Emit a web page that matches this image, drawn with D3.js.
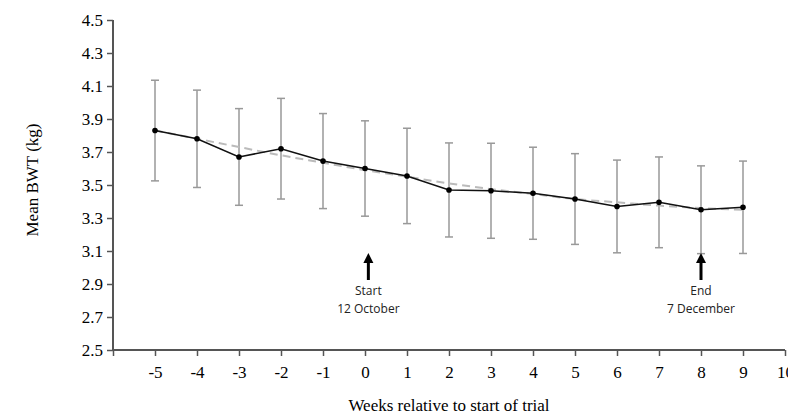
<!DOCTYPE html>
<html>
<head>
<meta charset="utf-8">
<script src="https://cdn.jsdelivr.net/npm/d3@7"></script>
<style>
  body { margin: 0; background: #fff; }
  svg { display: block; }
</style>
</head>
<body>
<div id="chart"></div>
<script>
// Chart data.
const weeks = [-5, -4, -3, -2, -1, 0, 1, 2, 3, 4, 5, 6, 7, 8, 9];
const meanBwt = [3.83, 3.78, 3.67, 3.72, 3.645, 3.60, 3.555, 3.47, 3.465, 3.45, 3.415, 3.37, 3.395, 3.35, 3.365];
const sdBwt = [0.305, 0.295, 0.293, 0.305, 0.288, 0.289, 0.289, 0.285, 0.288, 0.279, 0.275, 0.281, 0.275, 0.266, 0.28];
const trendBwt = [3.83, 3.78, 3.73, 3.68, 3.635, 3.59, 3.55, 3.51, 3.475, 3.445, 3.415, 3.395, 3.375, 3.36, 3.35];
const xTicks = [-6, -5, -4, -3, -2, -1, 0, 1, 2, 3, 4, 5, 6, 7, 8, 9, 10];
const yTicks = [2.5, 2.7, 2.9, 3.1, 3.3, 3.5, 3.7, 3.9, 4.1, 4.3, 4.5];
const notes = [
  { week: 0.08, lines: ["Start", "12 October"] },
  { week: 8, lines: ["End", "7 December"] }
];

const W = 788, H = 416;
const svg = d3.select("#chart").append("svg")
  .attr("width", W)
  .attr("height", H);

const x = d3.scaleLinear().domain([-6, 10]).range([113, 785]);
const y = d3.scaleLinear().domain([2.5, 4.5]).range([350, 20]);

const axisColor = "#555";
const serif = "'Liberation Serif', 'Times New Roman', serif";

// Y axis
const yAxis = svg.append("g")
  .attr("transform", "translate(" + x(-6) + ",0)")
  .call(d3.axisLeft(y).tickValues(yTicks).tickSize(6).tickPadding(4)
    .tickFormat(d3.format(".1f")));
yAxis.select(".domain").attr("stroke", axisColor).attr("stroke-width", 2)
  .attr("d", "M0," + y(4.5) + "V" + y(2.5));
yAxis.selectAll(".tick line").attr("stroke", axisColor).attr("stroke-width", 1.5);
yAxis.selectAll(".tick text")
  .attr("fill", "#000")
  .style("font-family", serif)
  .style("font-size", "17px");

// X axis
const xAxis = svg.append("g")
  .attr("transform", "translate(0," + y(2.5) + ")")
  .call(d3.axisBottom(x).tickValues(xTicks).tickSize(6).tickPadding(10)
    .tickFormat(d => d === -6 ? "" : d));
xAxis.select(".domain").attr("stroke", axisColor).attr("stroke-width", 2)
  .attr("d", "M" + x(-6) + ",0H" + x(10));
xAxis.selectAll(".tick line").attr("stroke", axisColor).attr("stroke-width", 1.5);
xAxis.selectAll(".tick text")
  .attr("fill", "#000")
  .style("font-family", serif)
  .style("font-size", "17px");

// Axis titles
svg.append("text")
  .attr("x", 449)
  .attr("y", 411)
  .attr("text-anchor", "middle")
  .style("font-family", serif)
  .style("font-size", "17px")
  .text("Weeks relative to start of trial");

svg.append("text")
  .attr("transform", "translate(38,180) rotate(-90)")
  .attr("text-anchor", "middle")
  .style("font-family", serif)
  .style("font-size", "17px")
  .text("Mean BWT (kg)");

// Error bars
const pts = weeks.map((w, i) => ({ w: w, m: meanBwt[i], sd: sdBwt[i], t: trendBwt[i] }));
const errColor = "#999";
const bars = svg.append("g").attr("stroke", errColor).attr("stroke-width", 1.5);
bars.selectAll("line.v").data(pts).enter().append("line")
  .attr("x1", d => x(d.w)).attr("x2", d => x(d.w))
  .attr("y1", d => y(d.m + d.sd)).attr("y2", d => y(d.m - d.sd));
bars.selectAll("line.top").data(pts).enter().append("line")
  .attr("x1", d => x(d.w) - 4).attr("x2", d => x(d.w) + 4)
  .attr("y1", d => y(d.m + d.sd)).attr("y2", d => y(d.m + d.sd));
bars.selectAll("line.bot").data(pts).enter().append("line")
  .attr("x1", d => x(d.w) - 4).attr("x2", d => x(d.w) + 4)
  .attr("y1", d => y(d.m - d.sd)).attr("y2", d => y(d.m - d.sd));

// Trend line (dashed)
svg.append("path")
  .datum(pts)
  .attr("fill", "none")
  .attr("stroke", "#bbb")
  .attr("stroke-width", 2)
  .attr("stroke-dasharray", "8,5")
  .attr("d", d3.line().x(d => x(d.w)).y(d => y(d.t)).curve(d3.curveMonotoneX));

// Mean line
svg.append("path")
  .datum(pts)
  .attr("fill", "none")
  .attr("stroke", "#111")
  .attr("stroke-width", 1.5)
  .attr("d", d3.line().x(d => x(d.w)).y(d => y(d.m)));

svg.selectAll("circle.pt").data(pts).enter().append("circle")
  .attr("cx", d => x(d.w))
  .attr("cy", d => y(d.m))
  .attr("r", 2.8)
  .attr("fill", "#000");

// Start / end annotations
const ann = svg.selectAll("g.note").data(notes).enter().append("g")
  .attr("transform", d => "translate(" + x(d.week) + ",0)");
ann.append("line")
  .attr("x1", 0).attr("x2", 0)
  .attr("y1", 260).attr("y2", 280)
  .attr("stroke", "#000").attr("stroke-width", 3);
ann.append("path")
  .attr("d", "M0,253L-5,263L5,263Z")
  .attr("fill", "#000");
ann.each(function(d) {
  const g = d3.select(this);
  d.lines.forEach((t, i) => {
    g.append("text")
      .attr("x", 0)
      .attr("y", 295 + i * 18)
      .attr("text-anchor", "middle")
      .style("font-family", "'Open Sans', 'Liberation Sans', sans-serif")
      .style("font-size", "12px")
      .attr("fill", "#222")
      .text(t);
  });
});
</script>
</body>
</html>
